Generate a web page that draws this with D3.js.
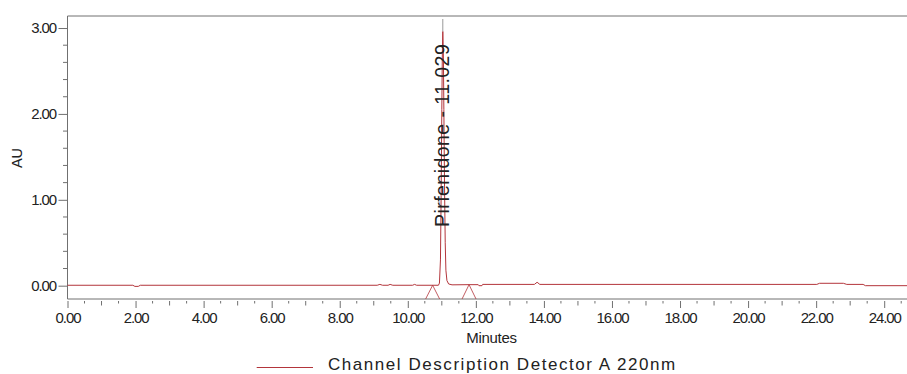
<!DOCTYPE html>
<html>
<head>
<meta charset="utf-8">
<script src="https://cdn.jsdelivr.net/npm/d3@7/dist/d3.min.js"></script>
<style>
  html, body { margin: 0; padding: 0; background: #fff; }
  svg { display: block; }
  text { font-family: "Liberation Sans", Arial, sans-serif; fill: #222; }
</style>
</head>
<body>
<svg id="chart" width="907" height="374"></svg>
<script>
// Chromatogram trace: retention time (minutes) and absorbance (AU)
const times = [0, 1.92, 1.98, 2.08, 2.14, 9.10, 9.18, 9.26, 9.42, 9.48, 9.56, 10.14, 10.20, 10.26,
  10.90, 10.93, 10.96, 10.98, 11.00, 11.015, 11.029, 11.045, 11.06, 11.08, 11.10, 11.12, 11.15, 11.20,
  11.30, 11.80, 12.07, 12.09, 12.18, 12.20, 13.72, 13.80, 13.88, 22.02, 22.10, 22.80, 22.90, 23.38, 23.45, 24.67];
const absorbance = [0.005, 0.005, -0.008, -0.008, 0.005, 0.005, 0.015, 0.005, 0.005, 0.015, 0.005, 0.005, 0.015, 0.005,
  0.005, 0.03, 0.30, 1.05, 2.05, 2.70, 2.96, 2.72, 2.05, 1.15, 0.50, 0.18, 0.06, 0.02,
  0.01, 0.012, 0.012, 0.0, 0.0, 0.015, 0.015, 0.04, 0.015, 0.015, 0.028, 0.028, 0.015, 0.015, 0.0, 0.0];

// Integration start / end markers
const integrationMarks = [10.73, 11.80];

// Peak annotation
const peakName = "Pirfenidone";
const peakTime = 11.029;
const peakHeight = 2.96;

// Axis ticks
const xMajorTicks = [0, 2, 4, 6, 8, 10, 12, 14, 16, 18, 20, 22, 24];
const xTickLabels = ["0.00", "2.00", "4.00", "6.00", "8.00", "10.00", "12.00", "14.00", "16.00", "18.00", "20.00", "22.00", "24.00"];
const yMajorTicks = [0, 1, 2, 3];
const yTickLabels = ["0.00", "1.00", "2.00", "3.00"];

const legendLabel = "Channel Description Detector A 220nm";
const xTitle = "Minutes";
const yTitle = "AU";

const svg = d3.select("#chart");
const plotLeft = 67.5, plotRight = 907, plotTop = 16, plotBottom = 299;
const traceColor = "#b3353b";
const axisColor = "#707070";

const x = d3.scaleLinear().domain([0, 24.67]).range([plotLeft, plotRight]);
const y = d3.scaleLinear().domain([-0.155, 3.14]).range([plotBottom, plotTop]);

// Plot frame
svg.append("path")
  .attr("d", `M${plotRight},${plotTop}H${plotLeft}V${plotBottom}H${plotRight}`)
  .attr("fill", "none").attr("stroke", axisColor).attr("stroke-width", 1);

// Y axis: majors with labels, minors every 0.2
const yAxis = d3.axisLeft(y).tickValues(yMajorTicks)
  .tickFormat((d, i) => yTickLabels[i]).tickSize(9).tickPadding(2.5).tickSizeOuter(0);
const gy = svg.append("g").attr("transform", `translate(${plotLeft},0)`).call(yAxis);
gy.select(".domain").remove();
gy.selectAll("line").attr("stroke", axisColor);
gy.selectAll("text").style("font-size", "15px").style("letter-spacing", "-1.1px").attr("fill", "#222");

const yMinor = d3.range(0, 3.01, 0.2).map(v => +v.toFixed(1)).filter(v => !yMajorTicks.includes(v));
svg.append("g").selectAll("line").data(yMinor).join("line")
  .attr("x1", plotLeft - 4.5).attr("x2", plotLeft)
  .attr("y1", d => y(d)).attr("y2", d => y(d))
  .attr("stroke", axisColor);

// X axis: ticks hang slightly below the frame
const xAxis = d3.axisBottom(x).tickValues(xMajorTicks)
  .tickFormat((d, i) => xTickLabels[i]).tickSize(7).tickPadding(4.5).tickSizeOuter(0);
const gx = svg.append("g").attr("transform", `translate(0,${plotBottom + 2})`).call(xAxis);
gx.select(".domain").remove();
gx.selectAll("line").attr("stroke", axisColor);
gx.selectAll("text").style("font-size", "15px").style("letter-spacing", "-1.1px").attr("fill", "#222");

const xMinor = d3.range(0.5, 24.6, 0.5).filter(v => v % 2 !== 0);
svg.append("g").selectAll("line").data(xMinor).join("line")
  .attr("x1", d => x(d)).attr("x2", d => x(d))
  .attr("y1", plotBottom + 2)
  .attr("y2", d => plotBottom + 2 + (d % 1 === 0 ? 4.5 : 2.5))
  .attr("stroke", axisColor);

// Axis titles
svg.append("text").attr("x", 491.5).attr("y", 343).attr("text-anchor", "middle")
  .style("font-size", "15px").style("letter-spacing", "-0.3px").text(xTitle);
svg.append("text").attr("transform", "translate(21.7,158) rotate(-90)").attr("text-anchor", "middle")
  .style("font-size", "14.5px").text(yTitle);

// Chromatogram trace
const pts = times.map((t, i) => [t, absorbance[i]]);
svg.append("path").datum(pts)
  .attr("fill", "none").attr("stroke", traceColor).attr("stroke-width", 1)
  .attr("d", d3.line().x(d => x(d[0])).y(d => y(d[1])));

// Integration markers: small tents from the baseline down to the axis
const baseAt = d3.scaleLinear().domain(times).range(absorbance);
svg.append("g").selectAll("path").data(integrationMarks).join("path")
  .attr("fill", "none").attr("stroke", traceColor).attr("stroke-width", 0.8)
  .attr("d", t => `M${x(t) - 7},${plotBottom}L${x(t)},${y(baseAt(t))}L${x(t) + 7},${plotBottom}`);

// Peak leader line and label
svg.append("line")
  .attr("x1", x(peakTime)).attr("x2", x(peakTime))
  .attr("y1", plotTop + 3).attr("y2", y(peakHeight))
  .attr("stroke", "#999").attr("stroke-width", 1);
svg.append("text")
  .attr("transform", `translate(${x(peakTime) + 6},227) rotate(-90)`)
  .style("font-size", "19.5px").style("letter-spacing", "0.45px")
  .text(`${peakName} - ${peakTime.toFixed(3)}`);

// Legend
svg.append("line").attr("x1", 256.7).attr("x2", 313).attr("y1", 367.5).attr("y2", 367.5)
  .attr("stroke", traceColor).attr("stroke-width", 1);
svg.append("text").attr("x", 328).attr("y", 370)
  .style("font-size", "17px").style("letter-spacing", "1.55px").text(legendLabel);
</script>
</body>
</html>
